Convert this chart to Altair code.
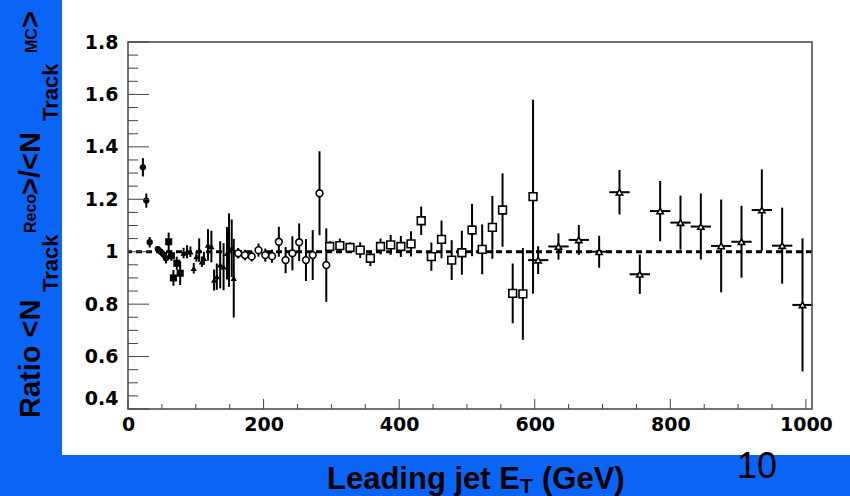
import altair as alt
import pandas as pd

# ---------------- data ----------------
# filled circles
fc_et = [22, 27, 32, 44, 48, 52, 56]
fc_ratio = [1.322, 1.195, 1.036, 1.010, 1.000, 0.990, 0.975]
fc_err = [0.035, 0.027, 0.020, 0.012, 0.012, 0.015, 0.020]

# filled squares
fs_et = [60, 64, 67, 72, 77]
fs_ratio = [1.038, 0.985, 0.900, 0.956, 0.918]
fs_err = [0.035, 0.020, 0.030, 0.025, 0.045]

# filled triangles
ft_et = [82, 87, 92, 97, 101, 105, 109, 112, 118, 123, 127, 131, 136, 141, 146, 149, 153, 156]
ft_ratio = [0.995, 1.000, 1.000, 0.937, 0.982, 1.006, 0.962, 0.975, 1.026, 1.020,
            0.892, 0.905, 0.950, 0.943, 0.994, 1.006, 1.013, 0.899]
ft_err = [0.020, 0.025, 0.020, 0.020, 0.020, 0.045, 0.020, 0.025, 0.060, 0.060,
          0.040, 0.050, 0.090, 0.090, 0.100, 0.140, 0.110, 0.150]

# open circles
oc_et = [162.5, 172.5, 182.5, 192.5, 202.5, 212.5, 222.5, 232.5, 242.5, 252.5,
         262.5, 272.5, 282.5, 292.5]
oc_ratio = [0.994, 0.987, 0.982, 1.006, 0.987, 0.983, 1.038, 0.968, 0.994, 1.036,
            0.968, 0.987, 1.223, 0.949]
oc_err = [0.020, 0.020, 0.020, 0.025, 0.025, 0.025, 0.057, 0.050, 0.065, 0.072,
          0.080, 0.095, 0.160, 0.140]

# open squares
os_et = [297.5, 312.5, 327.5, 342.5, 357.5, 372.5, 387.5, 402.5, 417.5, 432.5,
         447.5, 462.5, 477.5, 492.5, 507.5, 522.5, 537.5, 552.5, 567.5, 582.5, 597.5]
os_ratio = [1.020, 1.023, 1.016, 1.006, 0.975, 1.020, 1.026, 1.020, 1.030, 1.118,
            0.981, 1.047, 0.968, 0.996, 1.083, 1.009, 1.093, 1.159, 0.841, 0.839, 1.210]
os_err = [0.020, 0.027, 0.020, 0.030, 0.030, 0.030, 0.038, 0.040, 0.048, 0.054,
          0.054, 0.072, 0.076, 0.084, 0.100, 0.095, 0.120, 0.140, 0.114, 0.175, 0.370]

# open triangles (with horizontal bin-width bars)
ot_et = [605, 635, 665, 695, 725, 755, 785, 815, 845, 875, 905, 935, 965, 995]
ot_ratio = [0.968, 1.020, 1.045, 1.000, 1.227, 0.914, 1.155, 1.111, 1.096, 1.022,
            1.038, 1.159, 1.023, 0.797]
ot_err = [0.053, 0.050, 0.057, 0.061, 0.085, 0.075, 0.115, 0.103, 0.126, 0.177,
          0.137, 0.155, 0.145, 0.254]
ot_xerr = [15, 15, 15, 15, 15, 15, 15, 15, 15, 15, 15, 15, 15, 15]

# axis ticks
x_major = [0, 200, 400, 600, 800, 1000]
x_minor = [50, 100, 150, 250, 300, 350, 450, 500, 550, 650, 700, 750, 850, 900, 950]
y_major = [0.4, 0.6, 0.8, 1.0, 1.2, 1.4, 1.6, 1.8]
y_minor = [0.45, 0.5, 0.55, 0.65, 0.7, 0.75, 0.85, 0.9, 0.95, 1.05, 1.1, 1.15,
           1.25, 1.3, 1.35, 1.45, 1.5, 1.55, 1.65, 1.7, 1.75]
reference_level = [1.0]

# ---------------- layout ----------------
W, H = 684, 367
BLUE = "#0A64F6"
FRAME = "#444444"

xs = alt.Scale(domain=[0, 1009], nice=False, zero=False)
ys = alt.Scale(domain=[0.4, 1.8], nice=False, zero=False)

xa = alt.Axis(values=x_major, format="d", title=None, ticks=False, tickSize=0, domain=False,
              grid=False, labelFont="DejaVu Sans", labelFontWeight="bold", labelFontSize=19,
              labelColor="black", labelPadding=6, labelFlush=False, labelOverlap=False,
              labelBound=False, zindex=2)
ya = alt.Axis(values=y_major, title=None, ticks=False, tickSize=0, domain=False, grid=False,
              labelExpr="abs(datum.value - 1) < 0.001 ? '1' : format(datum.value, '.1f')",
              labelFont="DejaVu Sans", labelFontWeight="bold", labelFontSize=19,
              labelColor="black", labelPadding=10, labelFlush=False, labelOverlap=False,
              labelBound=False, zindex=2,
              labelOffset={"condition": {"test": "datum.value < 0.45", "value": -11}, "value": 0})


def X(f):
    return alt.X(f, type="quantitative", scale=xs, axis=xa)


def Y(f):
    return alt.Y(f, type="quantitative", scale=ys, axis=ya)


one = pd.DataFrame({"k": [0]})

layers = []

# white slide area
layers.append(alt.Chart(one).mark_rect(color="white").encode(
    x=alt.value(-66), x2=alt.value(722), y=alt.value(-42), y2=alt.value(413)))

# y = 1 reference
layers.append(alt.Chart(pd.DataFrame({"level": reference_level})).mark_rule(
    color="black", strokeWidth=3, strokeDash=[6, 4]).encode(y=Y("level")))


def series(et, ratio, err, shape, filled, size, xerr=None):
    d = {"et": et, "ratio": ratio, "err": err}
    if xerr is not None:
        d["xerr"] = xerr
    base = alt.Chart(pd.DataFrame(d)).transform_calculate(
        lo="datum.ratio - datum.err", hi="datum.ratio + datum.err")
    out = [base.mark_rule(color="black", strokeWidth=2).encode(
        x=X("et"), y=Y("lo"), y2=alt.Y2("hi"))]
    if xerr is not None:
        out.append(base.transform_calculate(
            xl="datum.et - datum.xerr", xh="datum.et + datum.xerr").mark_rule(
            color="black", strokeWidth=2).encode(x=X("xl"), x2=alt.X2("xh"), y=Y("ratio")))
    if filled:
        pt = base.mark_point(shape=shape, filled=True, color="black", opacity=1, size=size)
    else:
        pt = base.mark_point(shape=shape, filled=True, fill="white", stroke="black",
                             strokeWidth=1.6, opacity=1, size=size)
    out.append(pt.encode(x=X("et"), y=Y("ratio")))
    return out


layers += series(fc_et, fc_ratio, fc_err, "circle", True, 40)
layers += series(fs_et, fs_ratio, fs_err, "square", True, 50)
layers += series(ft_et, ft_ratio, ft_err, "triangle-up", True, 40)
layers += series(oc_et, oc_ratio, oc_err, "circle", False, 45)
layers += series(os_et, os_ratio, os_err, "square", False, 60)
layers += series(ot_et, ot_ratio, ot_err, "triangle-up", False, 40, xerr=ot_xerr)

# inward ticks
layers.append(alt.Chart(pd.DataFrame({"t": y_major})).mark_rule(color=FRAME, strokeWidth=1).encode(
    y=Y("t"), x=alt.value(0), x2=alt.value(21)))
layers.append(alt.Chart(pd.DataFrame({"t": y_minor})).mark_rule(color=FRAME, strokeWidth=1).encode(
    y=Y("t"), x=alt.value(0), x2=alt.value(10)))
layers.append(alt.Chart(pd.DataFrame({"t": x_major})).mark_rule(color=FRAME, strokeWidth=1).encode(
    x=X("t"), y=alt.value(H), y2=alt.value(H - 10)))
layers.append(alt.Chart(pd.DataFrame({"t": x_minor})).mark_rule(color=FRAME, strokeWidth=1).encode(
    x=X("t"), y=alt.value(H), y2=alt.value(H - 5)))

# frame
layers.append(alt.Chart(one).mark_rect(filled=False, stroke=FRAME, strokeWidth=1.5, fillOpacity=0).encode(
    x=alt.value(0), x2=alt.value(W), y=alt.value(0), y2=alt.value(H)))


def txt(s, x, y, size, angle=0, weight="bold", align="left", font="Liberation Sans"):
    kw = dict(text=s, fontSize=size, fontWeight=weight, font=font, align=align,
              baseline="alphabetic", color="black")
    if angle:
        kw["angle"] = angle
    return alt.Chart(one).mark_text(**kw).encode(x=alt.value(x), y=alt.value(y))


# y title: Ratio <N_Track^Reco>/<N_Track^MC>
layers += [
    txt("Ratio <N", -88, 376, 29, angle=270),
    txt("Track", -70, 250, 22, angle=270),
    txt("Reco", -92, 191, 16, angle=270),
    txt(">/<N", -88, 153, 29, angle=270),
    txt("Track", -70, 79, 22, angle=270),
    txt("MC", -91, 11, 16, angle=270),
    txt(">", -88, -14, 29, angle=270),
]
# x title: Leading jet E_T (GeV)
layers += [
    txt("Leading jet E", 199, 447, 31),
    txt("T", 392, 451, 21),
    txt("(GeV)", 414, 447, 31),
]
# page number
layers.append(txt("10", 629, 436, 36, weight="normal", align="center"))

chart = alt.layer(*layers).properties(
    width=W, height=H,
    autosize=alt.AutoSizeParams(type="none"),
    padding={"left": 128, "top": 42, "right": 38, "bottom": 87},
    background=BLUE,
).configure_view(stroke=None, fill="white")

chart.save("out.html", embed_options={"renderer": "svg", "actions": False})
